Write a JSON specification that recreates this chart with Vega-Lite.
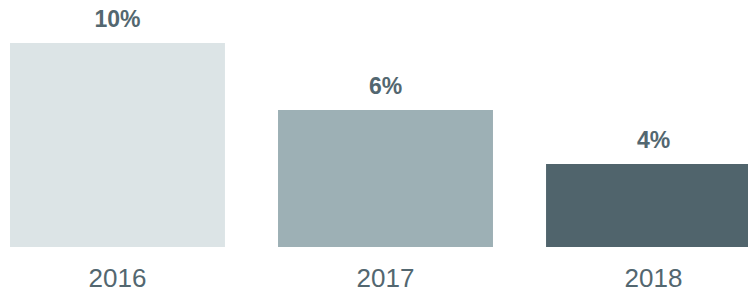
{
  "$schema": "https://vega.github.io/schema/vega-lite/v6.json",
  "width": 748,
  "height": 247,
  "autosize": {"type": "none"},
  "padding": {"left": 0, "top": 0, "right": 0, "bottom": 46},
  "background": "white",
  "config": {"view": {"stroke": null}, "font": "Liberation Sans"},
  "data": {
    "values": [
      {"year": "2016", "value": 10.0, "label": "10%"},
      {"year": "2017", "value": 6.72, "label": "6%"},
      {"year": "2018", "value": 4.07, "label": "4%"}
    ]
  },
  "encoding": {
    "x": {
      "field": "year",
      "type": "nominal",
      "sort": null,
      "scale": {"range": [10, 761], "paddingInner": 0.198, "paddingOuter": 0},
      "axis": {
        "title": null,
        "domain": false,
        "ticks": false,
        "labelAngle": 0,
        "labelFont": "Liberation Sans",
        "labelFontSize": 26,
        "labelColor": "#536770",
        "labelPadding": 18
      }
    },
    "y": {
      "field": "value",
      "type": "quantitative",
      "scale": {"domain": [0, 12.108], "nice": false},
      "axis": null
    }
  },
  "layer": [
    {
      "mark": {"type": "bar", "clip": true},
      "encoding": {
        "color": {
          "field": "year",
          "type": "nominal",
          "scale": {"domain": ["2016", "2017", "2018"], "range": ["#dce4e6", "#9db0b5", "#50646c"]},
          "legend": null
        }
      }
    },
    {
      "mark": {
        "type": "text",
        "baseline": "alphabetic",
        "dy": -16,
        "fontSize": 23,
        "fontWeight": "bold",
        "font": "Liberation Sans",
        "color": "#536770"
      },
      "encoding": {"text": {"field": "label"}}
    }
  ]
}
